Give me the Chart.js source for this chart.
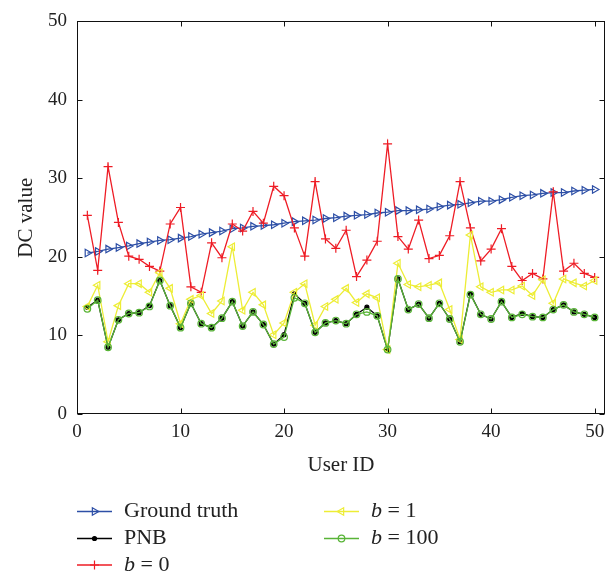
<!DOCTYPE html>
<html>
<head>
<meta charset="utf-8">
<script src="https://cdn.jsdelivr.net/npm/chart.js@4.4.1/dist/chart.umd.min.js"></script>
<style>
  html, body { margin: 0; padding: 0; background: #fff; }
  #wrap { width: 614px; height: 577px; }
</style>
</head>
<body>
<div id="wrap"><canvas id="dc-chart"></canvas></div>
<script>
const userIds = [1,2,3,4,5,6,7,8,9,10,11,12,13,14,15,16,17,18,19,20,21,22,23,24,25,
                 26,27,28,29,30,31,32,33,34,35,36,37,38,39,40,41,42,43,44,45,46,47,48,49,50];

const groundTruth = [20.5,20.7,21.0,21.2,21.4,21.7,21.9,22.1,22.2,22.4,
                     22.6,22.9,23.1,23.3,23.6,23.7,23.9,24.0,24.1,24.3,
                     24.5,24.6,24.7,24.9,25.0,25.2,25.3,25.4,25.6,25.7,
                     25.9,25.9,26.0,26.1,26.4,26.6,26.7,26.9,27.1,27.1,
                     27.3,27.6,27.8,27.9,28.1,28.2,28.2,28.4,28.5,28.6];

const pnb = [13.6,14.5,8.5,12.0,12.8,12.9,13.8,17.0,13.8,11.0,
             14.1,11.5,11.0,12.2,14.3,11.2,13.0,11.4,8.9,10.1,
             15.3,14.1,10.4,11.6,11.9,11.5,12.7,13.6,12.5,8.2,
             17.2,13.3,14.0,12.2,14.1,12.1,9.2,15.3,12.7,12.1,
             14.3,12.3,12.8,12.4,12.3,13.3,13.9,13.0,12.7,12.3];

const b0 = [25.3,18.3,31.5,24.4,20.1,19.7,18.8,18.2,24.2,26.3,
            16.2,15.5,21.8,19.9,24.2,23.3,25.8,24.3,29.0,27.8,
            23.7,20.1,29.6,22.3,21.1,23.4,17.5,19.6,22.0,34.4,
            22.6,21.0,24.7,19.8,20.2,22.7,29.6,23.7,19.5,21.0,
            23.6,18.8,17.0,17.9,17.2,28.3,18.2,19.2,17.9,17.4];

const b1 = [13.7,16.4,9.2,13.8,16.6,16.6,15.5,18.0,16.0,11.5,
            14.6,15.1,12.8,14.4,21.3,13.2,15.5,13.9,10.1,11.6,
            15.5,16.6,11.3,13.7,14.6,16.0,14.2,15.3,14.8,8.2,
            19.2,16.5,16.2,16.4,16.7,13.3,9.5,22.8,16.2,15.5,
            15.8,15.8,16.3,15.1,17.1,14.1,17.2,16.7,16.3,17.0];

const b100 = [13.4,14.5,8.5,12.0,12.8,12.9,13.7,17.0,13.8,11.0,
              14.1,11.5,11.0,12.2,14.3,11.2,13.0,11.4,8.9,9.8,
              14.8,14.1,10.4,11.6,11.9,11.5,12.7,13.0,12.5,8.2,
              17.2,13.3,14.0,12.2,14.1,12.1,9.2,15.2,12.7,12.1,
              14.3,12.3,12.7,12.4,12.3,13.3,13.9,13.0,12.7,12.3];

const seriesNames = ['Ground truth', 'PNB', 'b = 0', 'b = 1', 'b = 100'];
const xTicks = [0, 10, 20, 30, 40, 50];
const yTicks = [0, 10, 20, 30, 40, 50];

const serif = '"Liberation Serif", "DejaVu Serif", serif';

function pts(vals) {
  return vals.map((v, i) => ({ x: userIds[i], y: v }));
}

// box round the plot with inward ticks on all four sides
const boxTicks = {
  id: 'boxTicks',
  beforeDatasetsDraw(chart) {
    const { ctx, chartArea: a, scales } = chart;
    const L = Math.round(a.left) + 0.5, R = Math.round(a.right) - 0.5;
    const T = Math.round(a.top) + 0.5, B = Math.round(a.bottom) - 0.5;
    ctx.save();
    ctx.strokeStyle = '#111';
    ctx.lineWidth = 1;
    ctx.strokeRect(L, T, R - L, B - T);
    ctx.beginPath();
    xTicks.forEach(v => {
      const px = Math.round(scales.x.getPixelForValue(v)) + 0.5;
      ctx.moveTo(px, B); ctx.lineTo(px, B - 5);
      ctx.moveTo(px, T); ctx.lineTo(px, T + 5);
    });
    yTicks.forEach(v => {
      const py = Math.round(scales.y.getPixelForValue(v)) + 0.5;
      ctx.moveTo(L, py); ctx.lineTo(L + 5, py);
      ctx.moveTo(R, py); ctx.lineTo(R - 5, py);
    });
    ctx.stroke();
    ctx.restore();
  }
};

// two-column legend under the plot, filled column by column
const colLegend = {
  id: 'colLegend',
  afterDraw(chart) {
    const ctx = chart.ctx;
    const cols = [77, 324], rows = [511.5, 538.5, 565];
    const place = [[0, 0], [0, 1], [0, 2], [1, 0], [1, 1]];
    chart.data.datasets.forEach((ds, i) => {
      const x0 = cols[place[i][0]], y = rows[place[i][1]];
      ctx.save();
      ctx.strokeStyle = ds.borderColor;
      ctx.lineWidth = ds.borderWidth;
      ctx.beginPath();
      ctx.moveTo(x0, y); ctx.lineTo(x0 + 35, y);
      ctx.stroke();
      ctx.fillStyle = ds.pointBackgroundColor;
      ctx.strokeStyle = ds.pointBorderColor;
      ctx.lineWidth = ds.pointBorderWidth;
      Chart.helpers.drawPoint(ctx, {
        pointStyle: ds.pointStyle, rotation: ds.pointRotation || 0,
        radius: ds.pointRadius, borderWidth: ds.pointBorderWidth
      }, x0 + 17.5, y);
      ctx.fillStyle = '#222';
      ctx.textBaseline = 'middle';
      let tx = x0 + 47;
      let label = ds.label;
      if (label.startsWith('b ')) {
        ctx.font = 'italic 22px ' + serif;
        ctx.fillText('b', tx, y);
        tx += ctx.measureText('b').width;
        label = label.slice(1);
      }
      ctx.font = '22px ' + serif;
      ctx.fillText(label, tx, y);
      ctx.restore();
    });
  }
};

function line(label, vals, color, style, opts) {
  return Object.assign({
    label: label,
    data: pts(vals),
    borderColor: color,
    borderWidth: 1.3,
    pointStyle: style,
    pointRadius: 4,
    pointBorderColor: color,
    pointBackgroundColor: 'rgba(255,255,255,0)',
    pointBorderWidth: 1.2,
    tension: 0,
    fill: false
  }, opts);
}

new Chart(document.getElementById('dc-chart'), {
  type: 'line',
  data: {
    datasets: [
      line(seriesNames[0], groundTruth, '#2d4fa6', 'triangle', { pointRotation: 90, pointRadius: 4.3, order: 5 }),
      line(seriesNames[1], pnb, '#000000', 'circle', { pointRadius: 2, pointBackgroundColor: '#000000', order: 4 }),
      line(seriesNames[2], b0, '#ee1c25', 'cross', { pointRadius: 4.5, order: 3 }),
      line(seriesNames[3], b1, '#eded35', 'triangle', { pointRotation: -90, pointRadius: 4.3, order: 2 }),
      line(seriesNames[4], b100, '#58b437', 'circle', { pointRadius: 3.3, order: 1 })
    ]
  },
  options: {
    responsive: true,
    maintainAspectRatio: false,
    animation: false,
    layout: { padding: { left: 0, top: 15, right: 9, bottom: 95 } },
    plugins: { legend: { display: false }, tooltip: { enabled: false } },
    scales: {
      x: {
        type: 'linear', min: 0, max: 51,
        afterBuildTicks: s => { s.ticks = xTicks.map(v => ({ value: v })); },
        afterFit: s => { s.height = 68; },
        grid: { display: false, drawTicks: false },
        border: { display: false },
        ticks: { padding: 7, color: '#222', font: { family: serif, size: 19 } },
        title: { display: true, text: 'User ID', color: '#222', padding: { top: 0, bottom: 4 },
                 font: { family: serif, size: 21 } }
      },
      y: {
        min: 0, max: 50,
        afterBuildTicks: s => { s.ticks = yTicks.map(v => ({ value: v })); },
        afterFit: s => { s.width = 77; },
        grid: { display: false, drawTicks: false },
        border: { display: false },
        ticks: { padding: 10, color: '#222', font: { family: serif, size: 19 } },
        title: { display: true, text: 'DC value', color: '#222', padding: { top: 14, bottom: 0 },
                 font: { family: serif, size: 21 } }
      }
    }
  },
  plugins: [boxTicks, colLegend]
});
</script>
</body>
</html>
